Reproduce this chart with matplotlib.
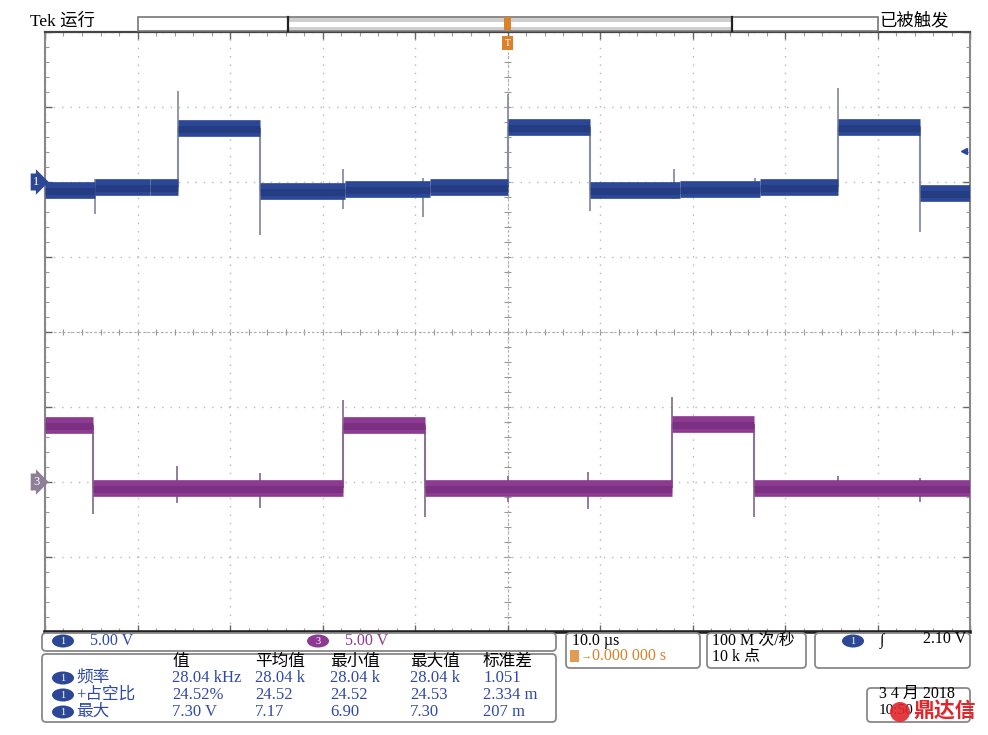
import numpy as np
import matplotlib
matplotlib.use("Agg")
import matplotlib.pyplot as plt
from matplotlib.patches import FancyBboxPatch, Rectangle, Ellipse, Circle

# scope settings
us_per_div = 10.0
volts_per_div = 5.0
ch1_offset_div = 2.0
ch3_offset_div = -2.0
trigger_level_v = 2.10

# channel 1 (blue): level change times (us) and level in volts
ch1_edges_us = [-50, -44.6, -38.6, -35.6, -26.8, -17.6, -8.4, 0.0, 8.9, 18.6, 27.3, 35.7, 44.6, 50]
ch1_levels_v = [-0.55, -0.3, -0.35, 3.6, -0.6, -0.45, -0.3, 3.65, -0.55, -0.45, -0.3, 3.65, -0.7]
ch1_spike_us = [-44.6, -35.6, -26.8, -17.8, -9.1, 0.0, 8.9, 18.0, 26.8, 35.7, 44.6]
ch1_spike_hi = [0.2, 6.1, 3.6, 0.9, 0.3, 5.9, 3.65, 0.9, 0.3, 6.3, 3.65]
ch1_spike_lo = [-2.1, -0.35, -3.5, -1.8, -2.3, -0.3, -1.9, -1.1, -1.0, -0.3, -3.3]

# channel 3 (purple)
ch3_edges_us = [-50, -44.8, -17.8, -8.9, 17.8, 26.6, 50]
ch3_levels_v = [3.8, -0.4, 3.8, -0.4, 3.9, -0.4]
ch3_spike_us = [-44.8, -35.7, -26.8, -17.8, -8.9, 0.0, 8.7, 17.8, 26.6, 35.7, 44.6]
ch3_spike_hi = [3.8, 1.1, 0.6, 5.5, 3.8, 0.4, 0.7, 5.7, 3.9, 0.4, 0.3]
ch3_spike_lo = [-2.1, -1.4, -1.7, -0.4, -2.3, -1.3, -1.8, -0.4, -2.3, -0.8, -1.3]

# measurement table
meas_headers = ["值", "平均值", "最小值", "最大值", "标准差"]
meas_names = ["频率", "+占空比", "最大"]
meas_values = [
    ["28.04 kHz", "28.04 k", "28.04 k", "28.04 k", "1.051"],
    ["24.52%", "24.52", "24.52", "24.53", "2.334 m"],
    ["7.30 V", "7.17", "6.90", "7.30", "207 m"],
]

BLUE = "#2b4796"
PURPLE = "#8c3a92"
ORANGE = "#d9822b"
TXT_BLUE = "#2f49a8"

plt.rcParams['font.family'] = ['Liberation Serif', 'Noto Sans CJK SC', 'DejaVu Serif']

W, H = 988, 735
fig = plt.figure(figsize=(W / 100, H / 100), dpi=100)
fig.patch.set_facecolor("white")

ax = fig.add_axes([45 / W, (H - 632) / H, 925 / W, 600 / H])
ax.set_xlim(-5 * us_per_div, 5 * us_per_div)
ax.set_ylim(-4, 4)
ax.set_xticks(np.arange(-50, 51, 10))
ax.set_yticks(np.arange(-4, 5, 1))
ax.set_xticks(np.arange(-50, 51, 2), minor=True)
ax.set_yticks(np.arange(-4, 4.01, 0.2), minor=True)
ax.tick_params(which="both", direction="in", top=True, right=True,
               labelbottom=False, labelleft=False)
ax.tick_params(which="major", length=5, color="#666", width=1)
ax.tick_params(which="minor", length=3, color="#999", width=0.8)
for side, c, w in [("left", "#888", 1.5), ("right", "#888", 1.5),
                   ("top", "#444", 1.6), ("bottom", "#222", 2.6)]:
    ax.spines[side].set_color(c)
    ax.spines[side].set_linewidth(w)
ax.grid(True, which="major", color="#b8b8b8", linestyle=(0, (1, 5)), lw=1)

# centre cross with small ticks
ax.axhline(0, color="#aaa", lw=0.8, ls=(0, (2, 2)), zorder=1)
ax.axvline(0, color="#aaa", lw=0.8, ls=(0, (2, 2)), zorder=1)
ax.vlines(np.arange(-50, 51, 2), -0.04, 0.04, color="#999", lw=0.8, zorder=1)
ax.hlines(np.arange(-4, 4.01, 0.2), -0.35, 0.35, color="#999", lw=0.8, zorder=1)


def draw_trace(edges, levels, offset, sp_t, sp_hi, sp_lo, band, core, edge_c):
    e = np.array(edges, dtype=float)
    lv = offset + np.array(levels) / volts_per_div
    big = np.abs(np.diff(lv)) > 0.3
    ax.vlines(e[1:-1][big], np.minimum(lv[:-1], lv[1:])[big],
              np.maximum(lv[:-1], lv[1:])[big], colors=edge_c, lw=1.5, zorder=2)
    ax.vlines(sp_t, offset + np.array(sp_lo) / volts_per_div,
              offset + np.array(sp_hi) / volts_per_div, colors=edge_c, lw=1.3, zorder=2)
    ax.hlines(lv, e[:-1], e[1:], colors=band, lw=12, zorder=3)
    ax.hlines(lv - 0.015, e[:-1], e[1:], colors=core, lw=5, alpha=0.35, zorder=3)


draw_trace(ch1_edges_us, ch1_levels_v, ch1_offset_div, ch1_spike_us, ch1_spike_hi,
           ch1_spike_lo, BLUE, "#16285e", "#8a8fa0")
draw_trace(ch3_edges_us, ch3_levels_v, ch3_offset_div, ch3_spike_us, ch3_spike_hi,
           ch3_spike_lo, PURPLE, "#5e1f66", "#8a7390")

# channel ground markers and trigger level marker
yt = ax.get_yaxis_transform()
ax.text(-0.006, ch1_offset_div, "1", transform=yt, ha="right", va="center", color="white",
        fontsize=9, bbox=dict(boxstyle="rarrow,pad=0.2", fc=BLUE, ec="none"), clip_on=False)
ax.text(-0.006, ch3_offset_div, "3", transform=yt, ha="right", va="center", color="white",
        fontsize=9, bbox=dict(boxstyle="rarrow,pad=0.2", fc="#8f7f96", ec="none"), clip_on=False)
ax.plot([0.994], [ch1_offset_div + trigger_level_v / volts_per_div], transform=yt,
        marker="<", ms=5, color=BLUE, clip_on=False, zorder=5)

# overlay in pixel coordinates for the scope chrome
ov = fig.add_axes([0, 0, 1, 1], facecolor="none")
ov.set_xlim(0, W)
ov.set_ylim(H, 0)
ov.axis("off")


def txt(x, y, s, color="black", size=11.5, ha="left", **kw):
    ov.text(x, y, s, color=color, fontsize=size, ha=ha, va="center", **kw)


def box(x0, y0, x1, y1, ec="#888", lw=1.3):
    ov.add_patch(FancyBboxPatch((x0, y0), x1 - x0, y1 - y0,
                                boxstyle="round,pad=0,rounding_size=4",
                                fc="white", ec=ec, lw=lw))


def badge(x, y, s, fc):
    ov.add_patch(Ellipse((x, y), 22, 13, fc=fc, ec="none"))
    txt(x, y + 0.5, s, color="white", size=7.5, ha="center")


# top bar
txt(30, 22, "Tek 运行", size=12.5)
txt(879, 21, "已被触发", size=12.5)
ov.add_patch(Rectangle((138, 17), 740, 14, fc="white", ec="#777", lw=1.2))
ov.add_patch(Rectangle((288, 18), 444, 12, fc="#cfcfcf", ec="none"))
ov.add_patch(Rectangle((288, 21.5), 444, 5, fc="white", ec="none"))
ov.plot([288, 288], [17, 31], color="#222", lw=1.6)
ov.plot([732, 732], [17, 31], color="#222", lw=1.6)
ov.add_patch(Rectangle((504, 17), 7, 13, fc=ORANGE, ec="none"))
ov.add_patch(Rectangle((502, 36), 11, 14, fc=ORANGE, ec="none"))
txt(507.5, 43.5, "T", color="white", size=7, ha="center")

# channel scale box
box(42, 633, 556, 651)
badge(63, 641, "1", BLUE)
txt(90, 641, "5.00 V", color=TXT_BLUE)
badge(318, 641, "3", PURPLE)
txt(345, 641, "5.00 V", color=PURPLE)

# measurement box
box(42, 654, 556, 722)
col_x = [172, 255, 330, 410, 483]
for cx, h in zip(col_x, meas_headers):
    txt(cx, 662, h, size=12)
for r, (name, vals) in enumerate(zip(meas_names, meas_values)):
    ry = 678 + r * 17
    badge(63, ry, "1", BLUE)
    txt(76, ry, name, color=TXT_BLUE, size=12)
    for cx, v in zip(col_x, vals):
        txt(cx, ry, v, color=TXT_BLUE, size=12)

# horizontal box
box(566, 633, 700, 668)
txt(572, 641, "10.0 µs")
ov.add_patch(Rectangle((570, 650), 9, 12, fc=ORANGE, ec="none", alpha=0.8))
txt(581, 656, "→", color=ORANGE, size=8)
txt(592, 656, "0.000 000 s", color=ORANGE)

# acquisition box
box(707, 633, 806, 668)
txt(712, 641, "100 M 次/秒")
txt(712, 656, "10 k 点")

# trigger box
box(815, 633, 970, 668)
badge(853, 641, "1", BLUE)
txt(880, 641, "∫")
txt(966, 639, f"{trigger_level_v:.2f} V", ha="right")

# date box with watermark logo over the time
box(867, 688, 970, 722)
txt(879, 694, "3 4 月 2018")
txt(879, 711, "10:50", size=11)
ov.add_patch(Circle((900, 712), 10, fc="#e0262b", ec="none", alpha=0.9, zorder=4))
txt(913, 712, "鼎达信", color="#e0262b", size=15, fontweight="bold", zorder=5)

fig.savefig("out.png", dpi=100)
